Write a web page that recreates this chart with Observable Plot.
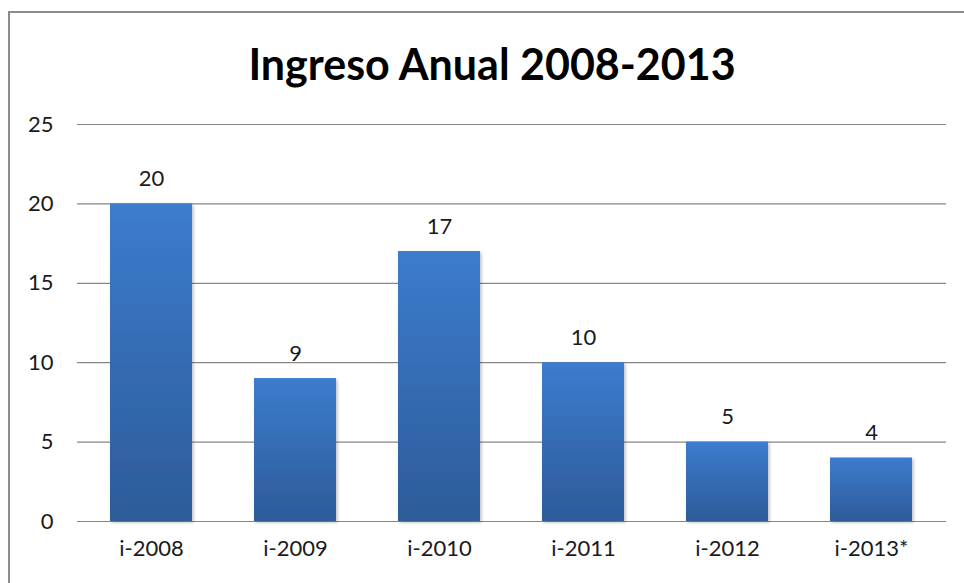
<!DOCTYPE html>
<html>
<head>
<meta charset="utf-8">
<script src="https://cdn.jsdelivr.net/npm/d3@7"></script>
<script src="https://cdn.jsdelivr.net/npm/@observablehq/plot@0.6"></script>
<style>
  html, body { margin: 0; padding: 0; background: #fff; }
  #wrap { position: relative; width: 964px; height: 583px; overflow: hidden; background: #fff; font-family: Lato, "Open Sans", sans-serif; }
  #frame { position: absolute; left: 8px; top: 11px; width: 1000px; height: 1000px; border: 2px solid #8c8c8c; box-sizing: border-box; }
  #title { position: absolute; left: 10px; width: 964px; top: 42px; line-height: 43px; font-size: 43px; font-weight: 700; text-align: center; color: #000; font-family: Lato, sans-serif; }
  #chart { position: absolute; left: 0; top: 0; }
</style>
</head>
<body>
<div id="wrap">
  <div id="frame"></div>
  <div id="chart"></div>
  <div id="title">Ingreso Anual 2008-2013</div>
</div>
<script>
const categories = ["i-2008", "i-2009", "i-2010", "i-2011", "i-2012", "i-2013*"];
const values = [20, 9, 17, 10, 5, 4];
const yTicks = [0, 5, 10, 15, 20, 25];

const data = categories.map((c, i) => ({category: c, value: values[i]}));

const defs = () => {
  const svgNS = "http://www.w3.org/2000/svg";
  const d = document.createElementNS(svgNS, "defs");
  d.innerHTML = `
    <linearGradient id="barGrad" x1="0" y1="0" x2="0" y2="1">
      <stop offset="0%" stop-color="#3c7cce"/>
      <stop offset="100%" stop-color="#2d5b98"/>
    </linearGradient>
    <filter id="barShadow" x="-10%" y="-10%" width="130%" height="130%">
      <feDropShadow dx="1.5" dy="1.5" stdDeviation="1.5" flood-color="#000" flood-opacity="0.25"/>
    </filter>`;
  return d;
};

const chart = Plot.plot({
  width: 964,
  height: 583,
  marginLeft: 77,
  marginRight: 18,
  marginTop: 124,
  marginBottom: 62,
  style: { fontFamily: "Lato, sans-serif", fontSize: "22px", color: "#1a1a1a", background: "transparent" },
  x: { domain: categories, paddingInner: 0.43, paddingOuter: 0.215, label: null },
  y: { domain: [0, 25], ticks: yTicks, label: null },
  marks: [
    defs,
    Plot.gridY(yTicks, { stroke: "#868686", strokeOpacity: 1, strokeWidth: 1.2 }),
    Plot.barY(data, { x: "category", y: "value", fill: "url(#barGrad)" }),
    Plot.text(data, { x: "category", y: "value", text: d => String(d.value), dy: -25, fill: "#1a1a1a", fontSize: 22 }),
    Plot.axisY({ ticks: yTicks, tickSize: 0, tickPadding: 24, fontSize: 22, label: null }),
    Plot.axisX({ tickSize: 0, tickPadding: 19, fontSize: 22, label: null })
  ]
});

document.getElementById("chart").appendChild(chart);
d3.select(chart).selectAll("rect").filter(function() { return this.getAttribute("fill") === "url(#barGrad)" || (this.parentNode && this.parentNode.getAttribute("fill") === "url(#barGrad)"); }).attr("filter", "url(#barShadow)");
</script>
</body>
</html>
